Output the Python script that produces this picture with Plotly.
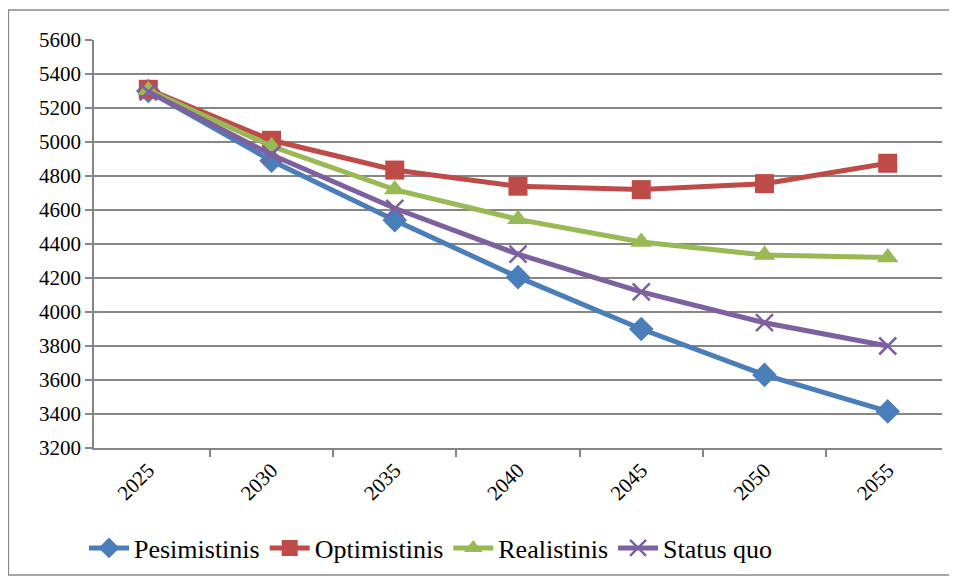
import plotly.graph_objects as go

years = ["2025", "2030", "2035", "2040", "2045", "2050", "2055"]
pesimistinis = [5300, 4890, 4540, 4205, 3900, 3630, 3415]
optimistinis = [5310, 5010, 4835, 4740, 4720, 4755, 4875]
realistinis = [5305, 4975, 4720, 4545, 4412, 4335, 4320]
status_quo = [5295, 4925, 4610, 4340, 4118, 3937, 3800]

series = [
    ("Pesimistinis", pesimistinis, "#4A7EBB", "diamond", 19),
    ("Optimistinis", optimistinis, "#BE4B48", "square", 19),
    ("Realistinis", realistinis, "#98B954", "triangle-up", 19),
    ("Status quo", status_quo, "#7D60A0", "x-thin", 17),
]

FONT = "'Liberation Serif', 'DejaVu Serif', serif"

fig = go.Figure()
for name, vals, col, sym, sz in series:
    fig.add_trace(go.Scatter(
        x=years, y=vals, name=name, mode="lines+markers",
        line=dict(color=col, width=5),
        marker=dict(symbol=sym, size=sz, color=col,
                    line=dict(color=col, width=2.5 if sym == "x-thin" else 0)),
    ))

fig.update_layout(
    width=957, height=580,
    paper_bgcolor="white", plot_bgcolor="white",
    margin=dict(l=86, r=23, t=32, b=140, autoexpand=False),
    font=dict(family=FONT, color="#000000"),
    showlegend=True,
    legend=dict(orientation="h", xref="container", yref="container",
                x=0.442, xanchor="center", y=0.069, yanchor="middle",
                font=dict(size=26, family=FONT), itemwidth=40,
                tracegroupgap=0),
    shapes=[dict(type="rect", xref="paper", yref="paper",
                 x0=-0.101, x1=1.0094, y0=-0.311, y1=1.0735,
                 line=dict(color="#888888", width=1.5), fillcolor="rgba(0,0,0,0)")],
)
fig.update_xaxes(
    type="category", tickson="boundaries", ticks="outside", ticklen=7,
    tickcolor="#868686", tickwidth=1.5, automargin=False,
    showline=True, linecolor="#868686", linewidth=1.5,
    showgrid=False, tickangle=-45,
    tickfont=dict(size=21, family=FONT),
)
fig.update_yaxes(
    range=[3200, 5600], dtick=200, tick0=3200, automargin=False,
    ticks="outside", ticklen=7, tickcolor="#868686", tickwidth=1.5,
    showline=True, linecolor="#868686", linewidth=1.5,
    showgrid=True, gridcolor="#868686", gridwidth=1.5, zeroline=False,
    tickfont=dict(size=21, family=FONT),
)
fig.write_html("out.html")
